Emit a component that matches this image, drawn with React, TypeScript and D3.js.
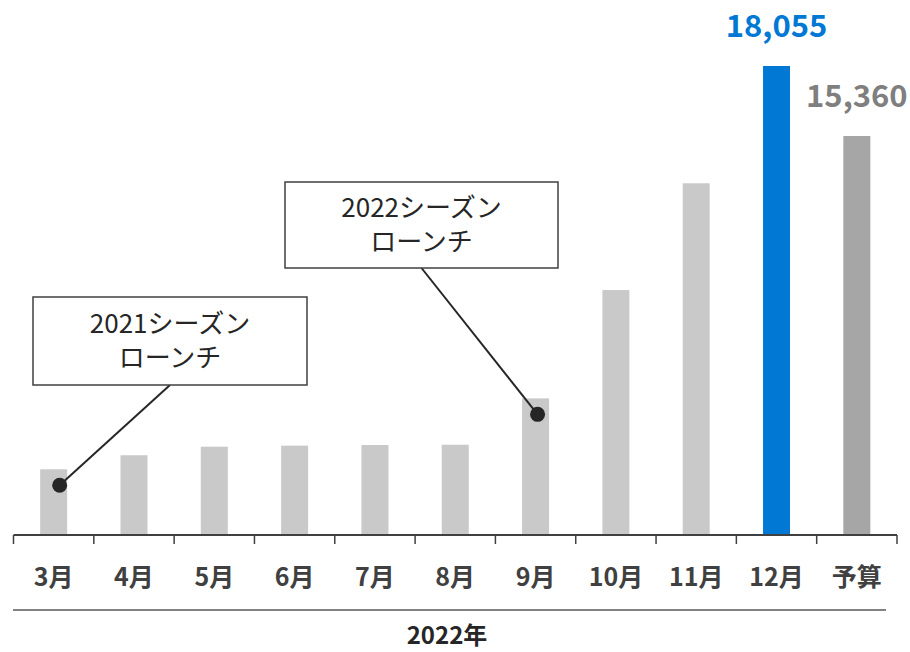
import React from "react";
import * as d3 from "d3";

const categories = ["3月", "4月", "5月", "6月", "7月", "8月", "9月", "10月", "11月", "12月", "予算"];
const values = [2530, 3070, 3400, 3440, 3465, 3475, 5260, 9430, 13540, 18055, 15360];
const barColors = ["#c9c9c9", "#c9c9c9", "#c9c9c9", "#c9c9c9", "#c9c9c9", "#c9c9c9", "#c9c9c9", "#c9c9c9", "#c9c9c9", "#0078d4", "#a6a6a6"];
const valueLabelCats = ["12月", "予算"];
const valueLabelColors = ["#0078d4", "#7f7f7f"];
const annotationCats = ["3月", "9月"];
const annotationLines1 = ["2021シーズン", "2022シーズン"];
const annotationLines2 = ["ローンチ", "ローンチ"];
const groupLabel = "2022年";

const W = 910;
const H = 652;
const FONT = "'Noto Sans CJK JP', 'Noto Sans', sans-serif";

export default function App() {
  const x = d3
    .scaleBand<string>()
    .domain(categories)
    .range([13.5, 897])
    .paddingInner(0.664)
    .paddingOuter(0.332);
  const y = d3.scaleLinear().domain([0, 18055]).range([535, 66]);
  const step = x.step();
  const ticks = d3.range(categories.length + 1).map((i) => 13.5 + i * step);
  const bw = x.bandwidth();

  // annotation boxes layout
  const boxes = [
    { x: 33, y: 297, w: 274, h: 88, dotDx: 6 },
    { x: 285, y: 182, w: 273, h: 86, dotDx: 2 },
  ];

  return (
    <svg
      width={W}
      height={H}
      style={{ position: "absolute", left: 0, top: 0, background: "#fff" }}
      fontFamily={FONT}
    >
      {/* bars */}
      {categories.map((c, i) => (
        <rect
          key={c}
          x={x(c)}
          y={y(values[i])}
          width={bw}
          height={y(0) - y(values[i])}
          fill={barColors[i]}
        />
      ))}
      {/* value labels */}
      {valueLabelCats.map((c, i) => {
        const idx = categories.indexOf(c);
        return (
          <text
            key={c}
            x={(x(c) as number) + bw / 2}
            y={y(values[idx]) - 29}
            textAnchor="middle"
            fontSize={31}
            fontWeight="bold"
            fill={valueLabelColors[i]}
          >
            {d3.format(",")(values[idx])}
          </text>
        );
      })}
      {/* axis */}
      <line x1={ticks[0]} x2={ticks[ticks.length - 1]} y1={535} y2={535} stroke="#404040" strokeWidth={2} />
      {ticks.map((t, i) => (
        <line key={i} x1={t} x2={t} y1={535} y2={544} stroke="#404040" strokeWidth={1.5} />
      ))}
      {categories.map((c) => (
        <text
          key={c}
          x={(x(c) as number) + bw / 2}
          y={577}
          dy="0.35em"
          textAnchor="middle"
          fontSize={25}
          fontWeight="bold"
          fill="#404040"
        >
          {c}
        </text>
      ))}
      <line x1={13} x2={886} y1={610} y2={610} stroke="#595959" strokeWidth={1.5} />
      <text x={447} y={636} dy="0.35em" textAnchor="middle" fontSize={24} fontWeight="bold" fill="#262626">
        {groupLabel}
      </text>
      {/* annotations */}
      {annotationCats.map((c, i) => {
        const idx = categories.indexOf(c);
        const b = boxes[i];
        const dx = (x(c) as number) + bw / 2 + b.dotDx;
        const dy = y(values[idx]) + 16;
        const lx = b.x + b.w / 2;
        const ly = b.y + b.h;
        return (
          <g key={c}>
            <line x1={lx} y1={ly} x2={dx} y2={dy} stroke="#262626" strokeWidth={2} />
            <circle cx={dx} cy={dy} r={7.5} fill="#262626" />
            <rect x={b.x} y={b.y} width={b.w} height={b.h} fill="#fff" stroke="#404040" strokeWidth={1.5} />
            <text
              x={b.x + b.w / 2}
              y={b.y + b.h / 2 - 17}
              dy="0.35em"
              textAnchor="middle"
              fontSize={26}
              fill="#262626"
            >
              {annotationLines1[i]}
            </text>
            <text
              x={b.x + b.w / 2}
              y={b.y + b.h / 2 + 17}
              dy="0.35em"
              textAnchor="middle"
              fontSize={26}
              fill="#262626"
            >
              {annotationLines2[i]}
            </text>
          </g>
        );
      })}
    </svg>
  );
}
